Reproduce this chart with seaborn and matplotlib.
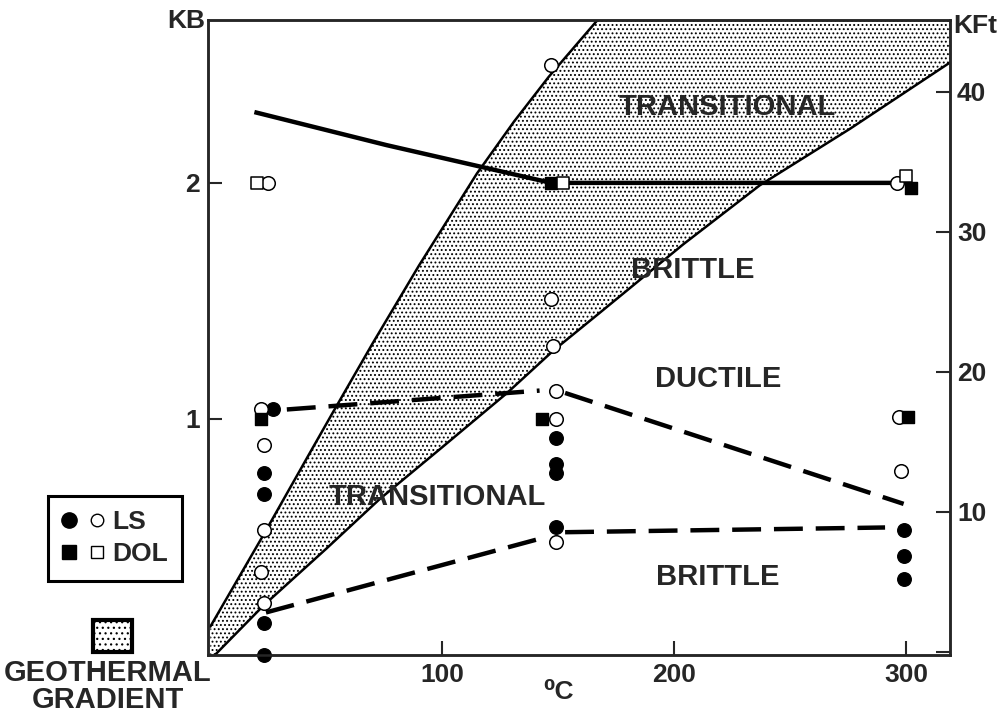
import matplotlib
matplotlib.use("Agg")
import matplotlib.pyplot as plt
import seaborn as sns
import pandas as pd
from matplotlib.lines import Line2D
from matplotlib.patches import Rectangle
from matplotlib.legend_handler import HandlerTuple

# temperature (deg C) / pressure (KB)
ls_filled_t = [27, 23, 23, 23, 23, 149, 149, 149, 149, 299, 299, 299]
ls_filled_kb = [1.04, 0.77, 0.68, 0.135, 0.0, 0.92, 0.81, 0.77, 0.54, 0.53, 0.42, 0.32]

ls_open_t = [25, 22, 23, 23, 22, 23, 147, 147, 148, 149, 149, 149, 296, 297, 298]
ls_open_kb = [2.0, 1.04, 0.89, 0.53, 0.35, 0.22, 2.50, 1.51, 1.31, 1.12, 1.0, 0.48, 2.0, 1.01, 0.78]

dol_filled_t = [22, 147, 143, 302, 301]
dol_filled_kb = [1.0, 2.0, 1.0, 1.98, 1.01]

dol_open_t = [20, 152, 300]
dol_open_kb = [2.0, 2.0, 2.03]

# solid line (DOL trend)
solid_t = [19, 76, 147, 297]
solid_kb = [2.30, 2.16, 2.0, 2.0]

# dashed lines (LS trends), two segments each
dash_seg = ["a", "a", "b", "b", "c", "c", "d", "d"]
dash_t = [33, 142, 153, 299, 24, 145, 153, 291]
dash_kb = [1.04, 1.12, 1.11, 0.64, 0.18, 0.50, 0.52, 0.54]

# geothermal gradient band edges
grad_hi_t = [0, 23, 42, 53, 70, 90, 115, 131, 146, 160, 167, 319]
grad_hi_kb = [0.12, 0.51, 0.84, 1.03, 1.32, 1.65, 2.04, 2.26, 2.45, 2.61, 2.69, 2.69]
grad_lo_t = [0, 2, 23, 50, 73, 100, 128, 148, 168, 204, 237, 276, 319]
grad_lo_kb = [0, 0, 0.21, 0.45, 0.66, 0.88, 1.11, 1.29, 1.45, 1.74, 1.99, 2.23, 2.51]

region_names = ["TRANSITIONAL", "BRITTLE", "DUCTILE", "TRANSITIONAL", "BRITTLE"]
x_ticks = [100, 200, 300]
kb_ticks = [1, 2]
kft_ticks = [0, 10, 20, 30, 40]

sns.set_style("ticks")
plt.rcParams["font.family"] = ["Liberation Sans", "DejaVu Sans"]
plt.rcParams["font.weight"] = "bold"
plt.rcParams["hatch.linewidth"] = 0.85
plt.rcParams["hatch.color"] = "black"

fig = plt.figure(figsize=(10, 7.15), dpi=100)
ax = fig.add_axes([0.208, 0.084, 0.742, 0.888])

# stippled band
band_t = grad_hi_t + grad_lo_t[::-1]
band_kb = grad_hi_kb + grad_lo_kb[::-1]
ax.fill(band_t, band_kb, facecolor="white", edgecolor="black", linewidth=0,
        hatch="....", zorder=1)
sns.lineplot(x=grad_hi_t[:11], y=grad_hi_kb[:11], color="black", lw=1.8, ax=ax, zorder=2)
sns.lineplot(x=grad_lo_t[1:], y=grad_lo_kb[1:], color="black", lw=1.8, ax=ax, zorder=2)

sns.lineplot(x=solid_t, y=solid_kb, color="black", lw=3.2, ax=ax, zorder=3,
             sort=False, solid_capstyle="butt")
dash_df = pd.DataFrame({"t": dash_t, "kb": dash_kb, "seg": dash_seg})
sns.lineplot(data=dash_df, x="t", y="kb", units="seg", estimator=None,
             color="black", lw=3.2, dashes=False, linestyle=(0, (6.5, 2.9)),
             ax=ax, zorder=3)

ax.scatter(ls_filled_t, ls_filled_kb, marker="o", s=95, c="black",
           edgecolors="black", linewidths=1.0, zorder=5, clip_on=False)
ax.scatter(ls_open_t, ls_open_kb, marker="o", s=95, c="white",
           edgecolors="black", linewidths=1.1, zorder=5, clip_on=False)
ax.scatter(dol_filled_t, dol_filled_kb, marker="s", s=85, c="black",
           edgecolors="black", linewidths=1.0, zorder=5, clip_on=False)
ax.scatter(dol_open_t, dol_open_kb, marker="s", s=85, c="white",
           edgecolors="black", linewidths=1.1, zorder=5, clip_on=False)

label_pos = [(223, 2.32), (208, 1.63), (219, 1.17), (98, 0.67), (219, 0.33)]
for name, (tx, ty) in zip(region_names, label_pos):
    ax.text(tx, ty, name, ha="center", va="center", fontsize=21,
            fontweight="bold", zorder=4)

ax.set_xlim(-1, 319)
ax.set_ylim(0, 2.69)
ax.set_xticks(x_ticks)
ax.set_yticks(kb_ticks)
ax.set_xlabel("")
ax.set_ylabel("")
ax.tick_params(direction="in", length=10, width=1.5, labelsize=19, pad=6)
for s in ax.spines.values():
    s.set_linewidth(1.8)

ax2 = ax.twinx()
ax2.set_ylim(-0.2, 45.1)
ax2.set_yticks(kft_ticks)
ax2.set_yticklabels([""] + [str(v) for v in kft_ticks[1:]])
ax2.tick_params(direction="in", length=10, width=1.5, labelsize=19, pad=5)
for s in ax2.spines.values():
    s.set_linewidth(1.8)

fig.text(0.186, 0.971, "KB", ha="center", va="center", fontsize=19, fontweight="bold")
fig.text(0.975, 0.963, "KFt", ha="center", va="center", fontsize=19, fontweight="bold")
fig.text(0.558, 0.032, "\u2070C", ha="center", va="center", fontsize=19,
         fontweight="bold", family=["Liberation Sans", "DejaVu Sans"])

# legend box
h_ls = (Line2D([], [], marker="o", color="black", ls="", ms=11),
        Line2D([], [], marker="o", mfc="white", mec="black", ls="", ms=9))
h_dol = (Line2D([], [], marker="s", color="black", ls="", ms=10),
         Line2D([], [], marker="s", mfc="white", mec="black", ls="", ms=9))
leg = fig.legend([h_ls, h_dol], ["LS", "DOL"], loc="center",
                 bbox_to_anchor=(0.115, 0.247), fontsize=19,
                 handler_map={tuple: HandlerTuple(ndivide=None, pad=0.5)},
                 handlelength=1.6, handletextpad=0.3, borderpad=0.55,
                 labelspacing=0.3, borderaxespad=0, fancybox=False,
                 edgecolor="black", framealpha=1)
leg.get_frame().set_linewidth(2.2)

fig.patches.append(Rectangle((0.093, 0.088), 0.039, 0.045, transform=fig.transFigure,
                             facecolor="white", edgecolor="black", lw=3, hatch="..."))
fig.text(0.108, 0.059, "GEOTHERMAL", ha="center", va="center", fontsize=21, fontweight="bold")
fig.text(0.108, 0.021, "GRADIENT", ha="center", va="center", fontsize=21, fontweight="bold")

fig.savefig("out.png", dpi=100)
